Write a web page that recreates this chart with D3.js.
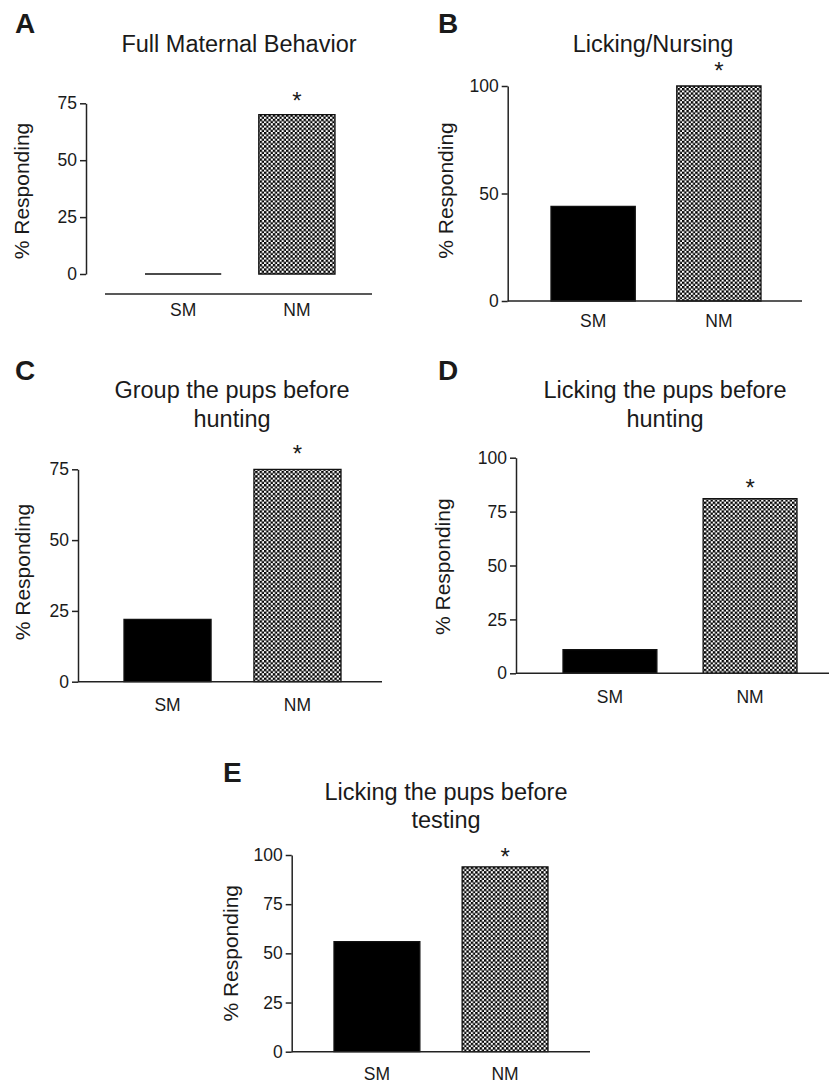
<!DOCTYPE html>
<html>
<head>
<meta charset="utf-8">
<script src="https://cdn.jsdelivr.net/npm/d3@7"></script>
<style>
  body { margin: 0; background: #fff; }
  svg text { font-family: "Liberation Sans", Arial, Helvetica, sans-serif; fill: #1a1a1a; }
</style>
</head>
<body>
<div id="chart"></div>
<script>
// ---- Data ----
var categories = ['SM', 'NM'];
var panelLetters = ['A', 'B', 'C', 'D', 'E'];
var panelTitles = [
  ['Full Maternal Behavior'],
  ['Licking/Nursing'],
  ['Group the pups before', 'hunting'],
  ['Licking the pups before', 'hunting'],
  ['Licking the pups before', 'testing']
];
var valuesA = [0, 70];
var valuesB = [44, 100];
var valuesC = [22, 75];
var valuesD = [11, 81];
var valuesE = [56, 94];
var ticksA = [0, 25, 50, 75];
var ticksB = [0, 50, 100];
var ticksC = [0, 25, 50, 75];
var ticksD = [0, 25, 50, 75, 100];
var ticksE = [0, 25, 50, 75, 100];
var significant = ['NM'];
var yLabel = '% Responding';

// ---- Layout (pixel positions per panel) ----
var layout = [
  { letter: [15, 33], titleX: 239, titleY: 52, axisX: 86, yTop: 103.3, yBottom: 274,
    bars: [145, 335], xLineY: 294, xLine: [105, 372], labelGap: 22, yLabelX: 29, yLabelY: 191, starGap: 19 },
  { letter: [438, 33], titleX: 653, titleY: 52, axisX: 507.7, yTop: 86, yBottom: 301,
    bars: [551, 761], xLineY: 301, xLine: [507.7, 802], labelGap: 26, yLabelX: 453, yLabelY: 190.5, starGap: 21 },
  { letter: [15, 380], titleX: 232, titleY: 398.3, axisX: 78, yTop: 469.3, yBottom: 681.7,
    bars: [124, 341], xLineY: 681.7, xLine: [78, 382], labelGap: 29, yLabelX: 30, yLabelY: 572, starGap: 21 },
  { letter: [438, 380], titleX: 665, titleY: 398.3, axisX: 516, yTop: 457.7, yBottom: 673.3,
    bars: [563, 797], xLineY: 673.3, xLine: [516, 829], labelGap: 30, yLabelX: 450, yLabelY: 566.7, starGap: 16 },
  { letter: [223, 782], titleX: 446, titleY: 800, axisX: 291.7, yTop: 855, yBottom: 1051.7,
    bars: [334, 548], xLineY: 1051.7, xLine: [291.7, 590], labelGap: 28, yLabelX: 238, yLabelY: 953.3, starGap: 16 }
];

var allValues = [valuesA, valuesB, valuesC, valuesD, valuesE];
var allTicks = [ticksA, ticksB, ticksC, ticksD, ticksE];

var attrs = {
  svgWidth: 829,
  svgHeight: 1085,
  axisColor: '#222',
  axisWidth: 1.5,
  titleSize: 23.5,
  tickSize: 17.5,
  catSize: 17.5,
  yLabelSize: 21,
  letterSize: 28,
  titleLineHeight: 28.4,
  checkCell: 4.4
};

var svg = d3.select('#chart').append('svg')
  .attr('width', attrs.svgWidth)
  .attr('height', attrs.svgHeight);

// Checkerboard fill
var c = attrs.checkCell;
var pattern = svg.append('defs').append('pattern')
  .attr('id', 'checker')
  .attr('patternUnits', 'userSpaceOnUse')
  .attr('width', c)
  .attr('height', c);
pattern.append('rect').attr('width', c).attr('height', c).attr('fill', '#fff');
pattern.append('rect').attr('width', c / 2 + 0.2).attr('height', c / 2 + 0.2).attr('fill', '#000');
pattern.append('rect').attr('x', c / 2).attr('y', c / 2)
  .attr('width', c / 2 + 0.2).attr('height', c / 2 + 0.2).attr('fill', '#000');

function drawPanel(i) {
  var L = layout[i];
  var values = allValues[i];
  var ticks = allTicks[i];
  var data = categories.map(function (c, j) { return { cat: c, value: values[j] }; });

  var g = svg.append('g').attr('class', 'panel panel-' + panelLetters[i]);

  // Scales
  var y = d3.scaleLinear()
    .domain([0, d3.max(ticks)])
    .range([L.yBottom, L.yTop]);
  var x = d3.scaleBand()
    .domain(categories)
    .range(L.bars)
    .paddingInner(0.33)
    .paddingOuter(0);

  // Panel letter
  g.append('text')
    .attr('x', L.letter[0])
    .attr('y', L.letter[1])
    .attr('font-size', attrs.letterSize)
    .attr('font-weight', 'bold')
    .text(panelLetters[i]);

  // Title (one or two lines)
  g.append('text')
    .attr('text-anchor', 'middle')
    .attr('font-size', attrs.titleSize)
    .selectAll('tspan')
    .data(panelTitles[i])
    .enter().append('tspan')
    .attr('x', L.titleX)
    .attr('y', function (d, k) { return L.titleY + k * attrs.titleLineHeight; })
    .text(function (d) { return d; });

  // Bars (path so a zero value still shows as a line)
  g.selectAll('.bar')
    .data(data)
    .enter().append('path')
    .attr('class', 'bar')
    .attr('d', function (d) {
      var x0 = x(d.cat), w = x.bandwidth(), top = y(d.value), h = y(0) - top;
      return 'M' + x0 + ',' + top + 'h' + w + 'v' + h + 'h' + (-w) + 'Z';
    })
    .attr('fill', function (d) { return d.cat === 'NM' ? 'url(#checker)' : '#000'; })
    .attr('stroke', '#111')
    .attr('stroke-width', 1.3);

  // Significance asterisk
  g.selectAll('.star')
    .data(data.filter(function (d) { return significant.indexOf(d.cat) > -1; }))
    .enter().append('text')
    .attr('class', 'star')
    .attr('text-anchor', 'middle')
    .attr('font-size', 24)
    .attr('x', function (d) { return x(d.cat) + x.bandwidth() / 2; })
    .attr('y', function (d) { return y(d.value) - L.starGap + 13.7; })
    .text('*');

  // Y axis
  var yAxis = g.append('g')
    .attr('transform', 'translate(' + L.axisX + ',0)')
    .call(d3.axisLeft(y).tickValues(ticks).tickSize(6).tickSizeOuter(0).tickPadding(3));
  yAxis.select('.domain').attr('stroke', attrs.axisColor).attr('stroke-width', attrs.axisWidth);
  yAxis.selectAll('.tick line').attr('stroke', attrs.axisColor).attr('stroke-width', attrs.axisWidth);
  yAxis.selectAll('.tick text')
    .attr('font-size', attrs.tickSize)
    .attr('font-family', '"Liberation Sans", Arial, sans-serif')
    .attr('fill', '#1a1a1a');

  // X axis line
  g.append('line')
    .attr('x1', L.xLine[0])
    .attr('x2', L.xLine[1])
    .attr('y1', L.xLineY)
    .attr('y2', L.xLineY)
    .attr('stroke', attrs.axisColor)
    .attr('stroke-width', attrs.axisWidth);

  // Category labels
  var xAxis = g.append('g')
    .attr('transform', 'translate(0,' + L.xLineY + ')')
    .call(d3.axisBottom(x).tickSize(0).tickPadding(0));
  xAxis.select('.domain').remove();
  xAxis.selectAll('.tick text')
    .attr('dy', null)
    .attr('y', L.labelGap)
    .attr('font-size', attrs.catSize)
    .attr('font-family', '"Liberation Sans", Arial, sans-serif')
    .attr('fill', '#1a1a1a');

  // Y axis label
  g.append('text')
    .attr('transform', 'translate(' + L.yLabelX + ',' + L.yLabelY + ') rotate(-90)')
    .attr('text-anchor', 'middle')
    .attr('font-size', attrs.yLabelSize)
    .text(yLabel);
}

for (var i = 0; i < layout.length; i++) drawPanel(i);
</script>
</body>
</html>
